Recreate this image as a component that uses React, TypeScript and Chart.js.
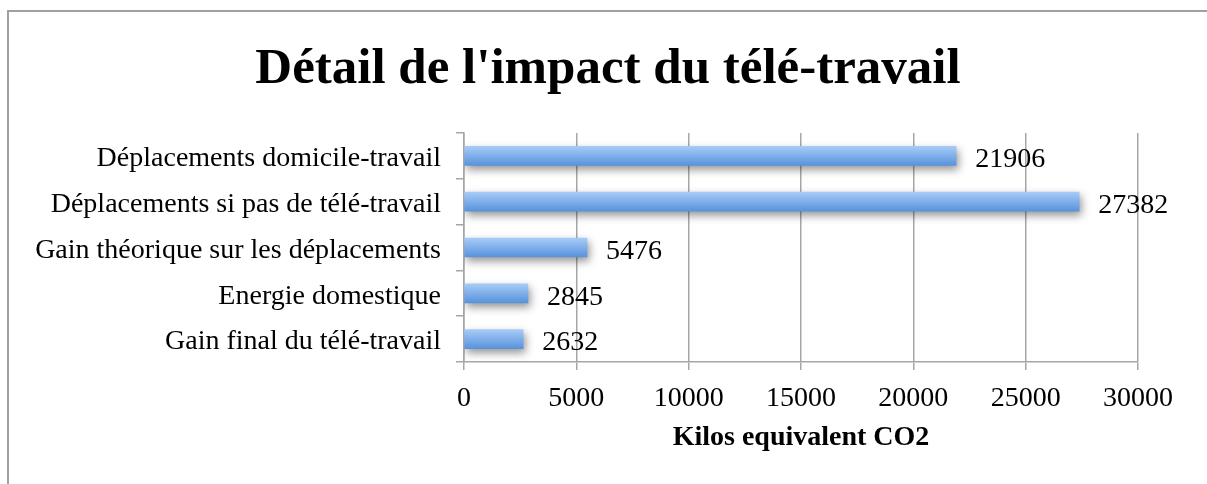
import React, { useEffect, useRef } from "react";
import { Chart, registerables } from "chart.js";

Chart.register(...registerables);

const TITLE = "Détail de l'impact du télé-travail";
const AXIS_TITLE = "Kilos equivalent CO2";
const categories = [
  "Déplacements domicile-travail",
  "Déplacements si pas de télé-travail",
  "Gain théorique sur les déplacements",
  "Energie domestique",
  "Gain final du télé-travail",
];
const values = [21906, 27382, 5476, 2845, 2632];
const xTickMin = 0;
const xTickMax = 30000;
const xTickStep = 5000;

const FONT = "'Liberation Serif', 'Times New Roman', serif";
const GRID = "#a6a6a6";

export default function App() {
  const ref = useRef<HTMLCanvasElement | null>(null);

  useEffect(() => {
    if (!ref.current) return;

    const titlePlugin = {
      id: "customTitle",
      afterDraw(chart: any) {
        const ctx = chart.ctx;
        ctx.save();
        ctx.font = `bold 51px ${FONT}`;
        ctx.fillStyle = "#000";
        ctx.textAlign = "center";
        ctx.textBaseline = "alphabetic";
        ctx.fillText(TITLE, 608, 83);
        ctx.restore();
      },
    };

    const shadowPlugin = {
      id: "barShadow",
      beforeDatasetDraw(chart: any) {
        const ctx = chart.ctx;
        ctx.save();
        ctx.shadowColor = "rgba(0,0,0,0.42)";
        ctx.shadowBlur = 8;
        ctx.shadowOffsetX = 2;
        ctx.shadowOffsetY = 4;
      },
      afterDatasetDraw(chart: any) {
        chart.ctx.restore();
      },
    };

    const labelPlugin = {
      id: "valueLabels",
      afterDatasetsDraw(chart: any) {
        const ctx = chart.ctx;
        const meta = chart.getDatasetMeta(0);
        ctx.save();
        ctx.font = `28px ${FONT}`;
        ctx.fillStyle = "#000";
        ctx.textAlign = "left";
        ctx.textBaseline = "middle";
        meta.data.forEach((bar: any, i: number) => {
          ctx.fillText(String(values[i]), bar.x + 19, bar.y + 4);
        });
        ctx.restore();
      },
    };

    const chart = new Chart(ref.current, {
      type: "bar",
      data: {
        labels: categories,
        datasets: [
          {
            data: values,
            barThickness: 19,
            borderWidth: 0,
            backgroundColor: (c: any) => {
              const ch = c.chart;
              const ys = ch.scales && ch.scales.y;
              if (!ys || c.dataIndex === undefined) return "#7eaeea";
              const y = ys.getPixelForValue(c.dataIndex);
              if (!isFinite(y)) return "#7eaeea";
              const g = ch.ctx.createLinearGradient(0, y - 9.5, 0, y + 9.5);
              g.addColorStop(0, "#a7cbf8");
              g.addColorStop(1, "#5893db");
              return g;
            },
          },
        ],
      },
      options: {
        indexAxis: "y",
        animation: false,
        responsive: false,
        maintainAspectRatio: false,
        layout: { padding: { left: 10, right: 69, top: 133, bottom: 0 } },
        plugins: {
          legend: { display: false },
          tooltip: { enabled: false },
          title: { display: false },
        },
        scales: {
          x: {
            type: "linear",
            min: xTickMin,
            max: xTickMax,
            ticks: {
              stepSize: xTickStep,
              color: "#000",
              font: { family: FONT, size: 28 },
              padding: 12,
              maxRotation: 0,
              callback: (v: any) => String(v),
            },
            grid: {
              color: GRID,
              lineWidth: 1.5,
              tickLength: 8,
            },
            border: { display: true, color: GRID, width: 1.5 },
            title: {
              display: true,
              text: AXIS_TITLE,
              color: "#000",
              font: { family: FONT, size: 28, weight: "bold" },
              padding: { top: 0, bottom: 29 },
            },
            afterFit: (s: any) => {
              s.height = 122;
            },
          },
          y: {
            type: "category",
            offset: true,
            ticks: {
              color: "#000",
              font: { family: FONT, size: 28 },
              padding: 15,
              autoSkip: false,
              labelOffset: 3,
            },
            grid: {
              offset: true,
              drawOnChartArea: false,
              color: GRID,
              lineWidth: 1.5,
              tickLength: 8,
            },
            border: { display: true, color: GRID, width: 1.5 },
            afterFit: (s: any) => {
              s.width = 454;
            },
          },
        },
      },
      plugins: [titlePlugin, shadowPlugin, labelPlugin],
    } as any);

    return () => chart.destroy();
  }, []);

  return (
    <div
      style={{
        position: "fixed",
        left: 0,
        top: 0,
        width: 1207,
        height: 484,
        overflow: "hidden",
        background: "#fff",
      }}
    >
      <div
        style={{
          position: "absolute",
          left: 7,
          top: 10,
          width: 1400,
          height: 2,
          background: "#a0a0a0",
        }}
      />
      <div
        style={{
          position: "absolute",
          left: 7,
          top: 10,
          width: 2,
          height: 600,
          background: "#a0a0a0",
        }}
      />
      <canvas
        ref={ref}
        width={1207}
        height={484}
        style={{ position: "absolute", left: 0, top: 0, width: 1207, height: 484 }}
      />
    </div>
  );
}
